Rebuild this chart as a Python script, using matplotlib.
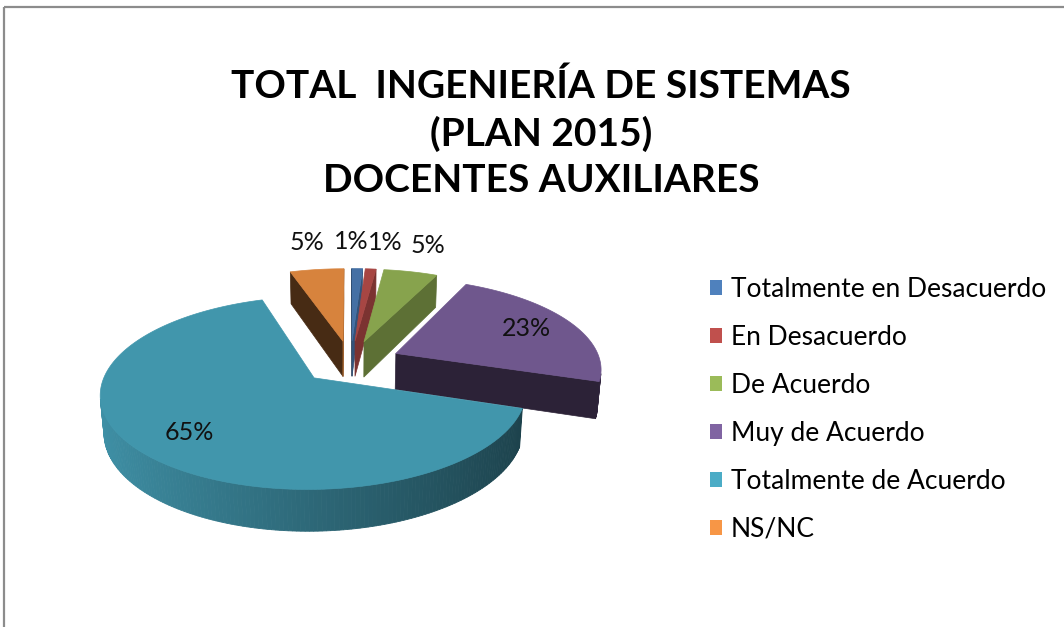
import numpy as np
import matplotlib
matplotlib.use('Agg')
import matplotlib.pyplot as plt
from matplotlib.patches import Polygon, Rectangle, Patch

# data
categorias = ['Totalmente en Desacuerdo', 'En Desacuerdo', 'De Acuerdo',
              'Muy de Acuerdo', 'Totalmente de Acuerdo', 'NS/NC']
valores = [1, 1, 5, 23, 65, 5]
etiquetas = ['1%', '1%', '5%', '23%', '65%', '5%']
colores = ['#4F81BD', '#C0504D', '#9BBB59', '#8064A2', '#4BACC6', '#F79646']
titulo = 'TOTAL  INGENIERÍA DE SISTEMAS\n(PLAN 2015)\nDOCENTES AUXILIARES'

plt.rcParams['font.family'] = ['Lato', 'DejaVu Sans']

W, H = 1064, 627
fig = plt.figure(figsize=(W / 100, H / 100), dpi=100)
ax = fig.add_axes([0, 0, 1, 1])
ax.set_xlim(0, W)
ax.set_ylim(H, 0)
ax.axis('off')

# marco gris del grafico
ax.add_patch(Rectangle((4, 7), W + 20, H + 20, fill=False, edgecolor='#8c8c8c', lw=1.6))

# camara para el pie 3d (perspectiva simple)
elev = np.arccos(0.9)
ce, se = np.cos(elev), np.sin(elev)
D = 5.92
F = 1212.0
Cx, Cy = 350.5, 362.0
alto = 0.2
explode = 0.245
cam = np.array([0.0, -D * ce, D * se])


def proj(X, Y, Z):
    X = np.asarray(X, float); Y = np.asarray(Y, float); Z = np.asarray(Z, float)
    prof = D + Y * ce - Z * se
    return Cx + F * X / prof, Cy - F * (Y * se + Z * ce) / prof


def tono(c, f):
    rgb = np.array(matplotlib.colors.to_rgb(c)) * f
    return np.clip(rgb, 0, 1)


def visible(p, ang):
    n = np.array([np.cos(ang), np.sin(ang), 0.0])
    return np.dot(cam - p, n) > 0


fr = np.array(valores) / sum(valores)
inicio = np.pi / 2 - 2 * np.pi * np.concatenate([[0], np.cumsum(fr)[:-1]])
fin = inicio - 2 * np.pi * fr
medio = (inicio + fin) / 2
centros = [(explode * np.cos(m), explode * np.sin(m)) for m in medio]

# de atras hacia adelante
orden = sorted(range(len(valores)), key=lambda i: -(centros[i][1] + 0.5 * np.sin(medio[i])))

for i in orden:
    ox, oy = centros[i]
    a1, a2 = inicio[i], fin[i]
    angs = np.linspace(a1, a2, max(int(abs(a1 - a2) / np.radians(1)) + 2, 3))
    top_c = tono(colores[i], 0.87)

    # pared exterior
    for k in range(len(angs) - 1):
        am = (angs[k] + angs[k + 1]) / 2
        pm = np.array([ox + np.cos(am), oy + np.sin(am), -alto / 2])
        if not visible(pm, am):
            continue
        xs = [ox + np.cos(angs[k]), ox + np.cos(angs[k + 1])]
        ys = [oy + np.sin(angs[k]), oy + np.sin(angs[k + 1])]
        px, py = proj(xs + xs[::-1], ys + ys[::-1], [0, 0, -alto, -alto])
        c = tono(colores[i], 0.87 * (0.70 - 0.27 * np.cos(am)))
        ax.add_patch(Polygon(np.c_[px, py], closed=True, fc=c, ec=c, lw=0.6))

    # caras de corte
    for a, n in [(a1, a1 + np.pi / 2), (a2, a2 - np.pi / 2)]:
        pm = np.array([ox + 0.5 * np.cos(a), oy + 0.5 * np.sin(a), -alto / 2])
        if not visible(pm, n):
            continue
        xs = [ox, ox + np.cos(a), ox + np.cos(a), ox]
        ys = [oy, oy + np.sin(a), oy + np.sin(a), oy]
        px, py = proj(xs, ys, [0, 0, -alto, -alto])
        f = 0.55 + 0.2 * np.cos(n) + 0.1 * np.sin(n)
        c = tono(colores[i], 0.87 * f)
        ax.add_patch(Polygon(np.c_[px, py], closed=True, fc=c, ec=c, lw=0.5))

    # cara superior
    xs = np.r_[ox, ox + np.cos(angs)]
    ys = np.r_[oy, oy + np.sin(angs)]
    px, py = proj(xs, ys, np.zeros(len(xs)))
    ax.add_patch(Polygon(np.c_[px, py], closed=True, fc=top_c, ec=top_c, lw=0.5))

# etiquetas de porcentaje
pos = []
for i in range(len(valores)):
    ox, oy = centros[i]
    r = 0.75 if fr[i] > 0.15 else 1.45
    lx, ly = proj(ox + r * np.cos(medio[i]), oy + r * np.sin(medio[i]), 0.0)
    pos.append([float(lx), float(ly), r > 1])
# separar etiquetas externas que se pisan
for i in range(len(pos) - 1):
    if pos[i][2] and pos[i + 1][2] and abs(pos[i + 1][0] - pos[i][0]) < 34:
        m = (pos[i][0] + pos[i + 1][0]) / 2
        pos[i][0], pos[i + 1][0] = m - 17, m + 17
for i, (lx, ly, _) in enumerate(pos):
    ax.text(lx, ly, etiquetas[i], ha='center', va='center', fontsize=18, color='#111111')

ax.text(541, 133, titulo, ha='center', va='center', fontsize=28, fontweight='bold',
        linespacing=1.38, color='black')

handles = [Patch(facecolor=c, edgecolor='none') for c in colores]
ax.legend(handles, categorias, loc='upper left', bbox_to_anchor=(710, 277),
          bbox_transform=ax.transData, frameon=False, fontsize=19,
          handlelength=0.46, handleheight=0.46, handletextpad=0.32,
          labelspacing=0.87, borderpad=0, borderaxespad=0)

fig.savefig('out.png', dpi=100)
